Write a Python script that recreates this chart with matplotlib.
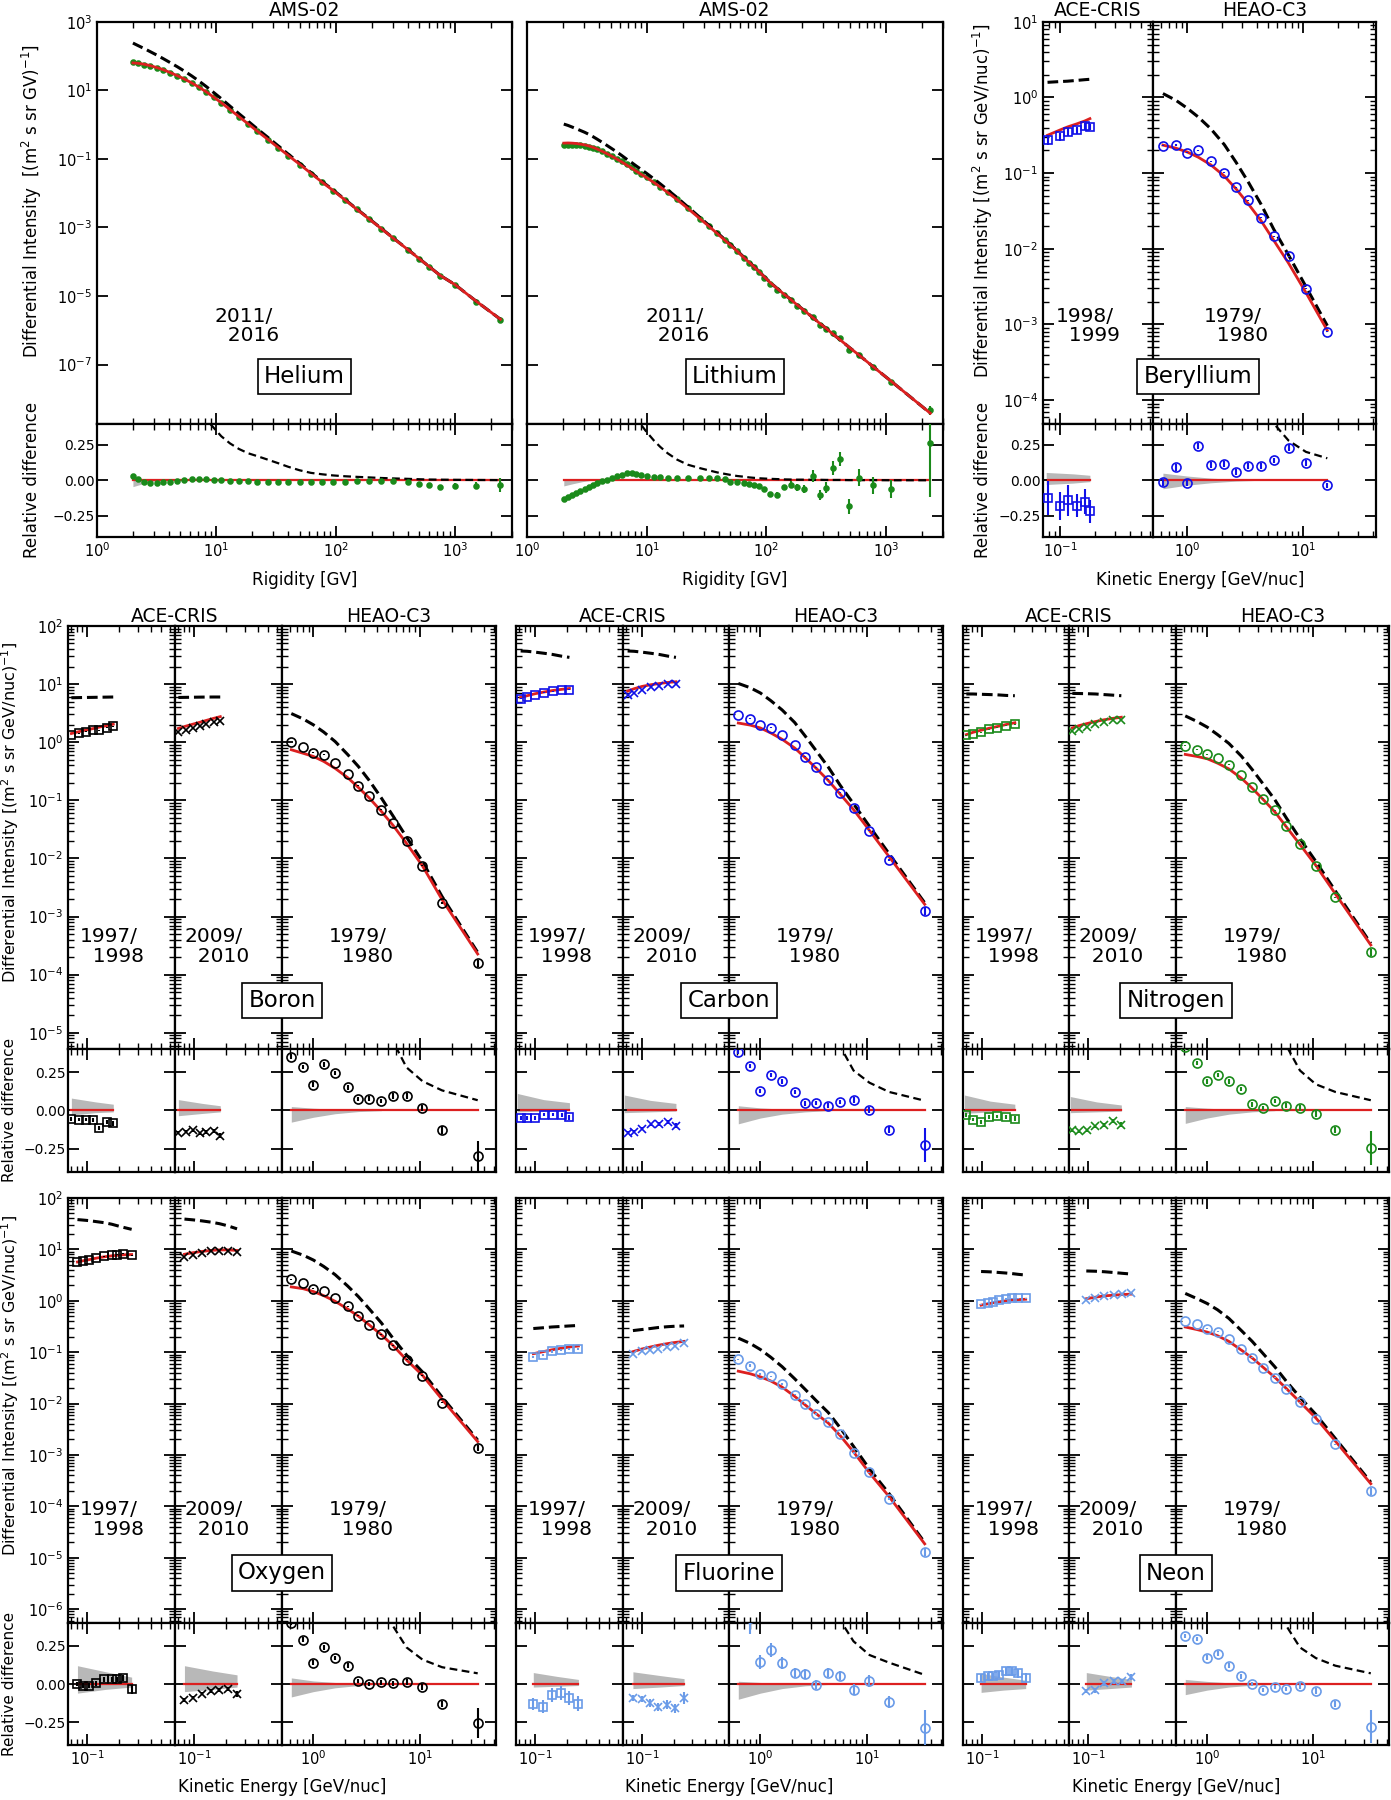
import numpy as np
import matplotlib
matplotlib.use("Agg")
import matplotlib.pyplot as plt
from matplotlib.ticker import (LogLocator, FixedLocator, FixedFormatter,
                               NullFormatter, NullLocator, LogFormatterMathtext)

# ---------------------------------------------------------------------------
# data
# fluxes are log10 of the differential intensity, *_rel is the relative
# difference (data - model) / model, *_lisx is (LIS / model) - 1
# ---------------------------------------------------------------------------

# AMS-02 helium (2011/2016)
he_R = [2.0, 2.2, 2.5, 2.8, 3.2, 3.6, 4.1, 4.7, 5.4, 6.2, 7.1, 8.2, 9.5, 11, 13,
        15.5, 18.5, 22, 27, 33, 40, 50, 62, 77, 95, 120, 150, 190, 240, 300,
        400, 500, 600, 750, 1000, 1500, 2400]
he_model = [1.80, 1.79, 1.76, 1.72, 1.66, 1.60, 1.52, 1.43, 1.33, 1.22, 1.10,
            0.96, 0.80, 0.64, 0.44, 0.23, 0.02, -0.19, -0.43, -0.67, -0.90,
            -1.16, -1.42, -1.68, -1.92, -2.20, -2.47, -2.75, -3.03, -3.30,
            -3.64, -3.91, -4.13, -4.40, -4.67, -5.15, -5.68]
he_rel = [0.03, 0.008, -0.015, -0.02, -0.02, -0.015, -0.01, -0.003, 0.003,
          0.007, 0.008, 0.007, 0.005, 0.002, -0.002, -0.005, -0.008, -0.01,
          -0.012, -0.013, -0.014, -0.015, -0.015, -0.013, -0.012, -0.01,
          -0.008, -0.006, -0.006, -0.008, -0.01, -0.025, -0.03, -0.05, -0.04,
          -0.04, -0.035]
he_err = [0.005, 0.005, 0.005, 0.005, 0.005, 0.005, 0.005, 0.005, 0.005,
          0.005, 0.005, 0.005, 0.005, 0.005, 0.005, 0.005, 0.005, 0.005,
          0.005, 0.005, 0.005, 0.005, 0.005, 0.005, 0.005, 0.005, 0.005,
          0.005, 0.006, 0.007, 0.01, 0.012, 0.014, 0.015, 0.02, 0.025, 0.05]
he_lisx = [2.8, 2.3, 1.85, 1.55, 1.3, 1.1, 0.95, 0.82, 0.7, 0.6, 0.51, 0.43,
           0.37, 0.31, 0.26, 0.22, 0.19, 0.17, 0.145, 0.12, 0.095, 0.07,
           0.052, 0.042, 0.034, 0.028, 0.024, 0.02, 0.016, 0.013, 0.01,
           0.007, 0.005, 0.004, 0.003, 0.002, 0.001]
he_band_R = [2.0, 2.3, 2.8, 3.5]
he_band_lo = [-0.045, -0.03, -0.01, 0.0]
he_band_hi = [0.005, 0.003, 0.0, 0.0]

# AMS-02 lithium (2011/2016)
li_R = [2.03, 2.2, 2.38, 2.58, 2.8, 3.03, 3.28, 3.55, 3.85, 4.2, 4.67, 5.1,
        5.67, 6.2, 6.8, 7.5, 8.2, 9.0, 10, 11.5, 13, 15, 18, 22, 28, 33, 39,
        45, 50, 57, 65, 72, 79, 87, 96, 108, 124, 141, 160, 181, 207, 245,
        280, 318, 360, 415, 490, 594, 780, 1100, 2350]
li_model = [-0.54, -0.535, -0.54, -0.55, -0.57, -0.59, -0.62, -0.66, -0.71,
            -0.77, -0.85, -0.92, -1.01, -1.09, -1.18, -1.27, -1.36, -1.45,
            -1.55, -1.69, -1.82, -1.98, -2.19, -2.44, -2.75, -2.96, -3.18,
            -3.37, -3.51, -3.69, -3.88, -4.02, -4.15, -4.29, -4.44, -4.61,
            -4.79, -4.95, -5.10, -5.26, -5.42, -5.63, -5.80, -5.95, -6.11,
            -6.28, -6.49, -6.72, -7.06, -7.48, -8.42]
li_rel = [-0.13, -0.118, -0.105, -0.09, -0.075, -0.062, -0.05, -0.035, -0.02,
          -0.008, 0.005, 0.018, 0.03, 0.04, 0.05, 0.05, 0.045, 0.04, 0.03,
          0.025, 0.02, 0.015, 0.013, 0.015, 0.018, 0.016, 0.015, 0.01, -0.013,
          -0.015, -0.02, -0.025, -0.035, -0.04, -0.065, -0.1, -0.105, -0.05,
          -0.03, -0.05, -0.06, 0.03, -0.105, -0.053, 0.085, 0.15, -0.185,
          0.018, -0.035, -0.06, 0.26]
li_err = [0.008, 0.008, 0.008, 0.008, 0.008, 0.008, 0.008, 0.008, 0.008,
          0.008, 0.008, 0.008, 0.008, 0.008, 0.008, 0.008, 0.008, 0.008,
          0.008, 0.008, 0.008, 0.008, 0.008, 0.008, 0.008, 0.008, 0.008,
          0.008, 0.008, 0.008, 0.008, 0.008, 0.008, 0.008, 0.008, 0.02, 0.02,
          0.02, 0.025, 0.025, 0.03, 0.045, 0.035, 0.04, 0.05, 0.05, 0.05,
          0.06, 0.06, 0.065, 0.38]
li_lisx = [2.6, 2.25, 1.95, 1.7, 1.5, 1.33, 1.18, 1.05, 0.94, 0.84, 0.74,
           0.67, 0.6, 0.54, 0.49, 0.45, 0.42, 0.39, 0.34, 0.28, 0.235, 0.19,
           0.145, 0.11, 0.085, 0.07, 0.055, 0.045, 0.038, 0.03, 0.025, 0.02,
           0.017, 0.014, 0.012, 0.01, 0.008, 0.006, 0.005, 0.004, 0.004,
           0.003, 0.003, 0.002, 0.002, 0.002, 0.001, 0.001, 0.001, 0.0, 0.0]
li_band_R = [2.03, 2.4, 2.9, 3.5]
li_band_lo = [-0.04, -0.025, -0.01, 0.0]
li_band_hi = [0.005, 0.003, 0.0, 0.0]

# HEAO-C3 energy bins (GeV/nuc) shared by all elements
heao_E = [0.62, 0.80, 1.00, 1.25, 1.60, 2.10, 2.65, 3.35, 4.35, 5.60, 7.50,
          10.6, 16.2, 35.0]
be_heao_E = [0.62, 0.80, 1.00, 1.25, 1.60, 2.10, 2.65, 3.35, 4.35, 5.60,
             7.50, 10.6, 16.2]
heao_band_E = [0.62, 1.00, 1.60, 2.65, 4.35]

# Beryllium
be_ace_E = [0.078, 0.100, 0.116, 0.139, 0.164, 0.181]
be_ace_model = [-0.50, -0.43, -0.39, -0.35, -0.31, -0.28]
be_ace_lis = [0.20, 0.21, 0.215, 0.225, 0.235, 0.24]
be_ace_rel = [-0.125, -0.18, -0.14, -0.18, -0.15, -0.22]
be_ace_err = [0.12, 0.10, 0.11, 0.08, 0.09, 0.08]
be_ace_band_E = [0.076, 0.13, 0.181]
be_ace_band_lo = [-0.03, -0.02, -0.01]
be_ace_band_hi = [0.055, 0.045, 0.035]
be_heao_model = [-0.63, -0.67, -0.72, -0.79, -0.89, -1.04, -1.21, -1.40,
                 -1.63, -1.89, -2.19, -2.58, -3.08]
be_heao_rel = [-0.013, 0.093, -0.019, 0.24, 0.106, 0.114, 0.056, 0.10, 0.10,
               0.14, 0.23, 0.12, -0.037]
be_heao_err = [0.025, 0.025, 0.02, 0.02, 0.02, 0.02, 0.02, 0.02, 0.02, 0.02,
               0.025, 0.02, 0.02]
be_heao_lisx = [3.8, 3.3, 2.8, 2.4, 2.0, 1.6, 1.25, 0.95, 0.65, 0.4, 0.28,
                0.2, 0.155]
be_heao_band_lo = [-0.06, -0.035, -0.018, -0.006, 0.0]
be_heao_band_hi = [0.05, 0.03, 0.015, 0.005, 0.0]

# Boron
b_ace_E = [0.071, 0.083, 0.097, 0.114, 0.130, 0.152, 0.176]
b_ace_band_E = [0.071, 0.12, 0.176]
b_ace1_model = [0.15, 0.18, 0.21, 0.235, 0.26, 0.285, 0.31]
b_ace1_lis = [0.765, 0.768, 0.770, 0.772, 0.774, 0.776, 0.778]
b_ace1_rel = [-0.055, -0.06, -0.06, -0.06, -0.115, -0.075, -0.085]
b_ace1_err = [0.012, 0.012, 0.012, 0.013, 0.015, 0.015, 0.018]
b_ace1_band_lo = [-0.03, -0.015, -0.01]
b_ace1_band_hi = [0.08, 0.055, 0.04]
b_ace2_model = [0.237, 0.275, 0.31, 0.345, 0.375, 0.41, 0.44]
b_ace2_lis = [0.770, 0.772, 0.774, 0.776, 0.777, 0.778, 0.778]
b_ace2_rel = [-0.145, -0.14, -0.13, -0.15, -0.14, -0.135, -0.165]
b_ace2_err = [0.01, 0.01, 0.01, 0.012, 0.012, 0.012, 0.015]
b_ace2_band_lo = [-0.035, -0.02, -0.01]
b_ace2_band_hi = [0.07, 0.045, 0.03]
b_heao_model = [-0.13, -0.19, -0.245, -0.33, -0.45, -0.61, -0.78, -0.96,
                -1.19, -1.43, -1.74, -2.13, -2.71, -3.645]
b_heao_rel = [0.35, 0.283, 0.168, 0.30, 0.243, 0.15, 0.073, 0.077, 0.062,
              0.095, 0.095, 0.013, -0.126, -0.30]
b_heao_err = [0.015, 0.015, 0.015, 0.015, 0.015, 0.015, 0.015, 0.015, 0.015,
              0.018, 0.02, 0.02, 0.025, 0.10]
b_heao_lisx = [3.2, 2.9, 2.5, 2.2, 1.9, 1.5, 1.3, 1.0, 0.7, 0.45, 0.28, 0.19,
               0.13, 0.066]
b_heao_band_lo = [-0.077, -0.045, -0.022, -0.008, -0.002]
b_heao_band_hi = [0.025, 0.014, 0.007, 0.003, 0.0]

# Carbon
c_ace_E = [0.073, 0.084, 0.100, 0.122, 0.146, 0.178, 0.210]
c_ace_band_E = [0.068, 0.12, 0.21]
c_ace1_model = [0.77, 0.80, 0.835, 0.865, 0.89, 0.91, 0.925]
c_ace1_lis = [1.57, 1.565, 1.55, 1.53, 1.51, 1.48, 1.46]
c_ace1_rel = [-0.05, -0.05, -0.05, -0.03, -0.03, -0.03, -0.045]
c_ace1_err = [0.01, 0.01, 0.01, 0.01, 0.01, 0.012, 0.015]
c_ace1_band_lo = [-0.01, -0.005, 0.0]
c_ace1_band_hi = [0.11, 0.07, 0.05]
c_ace2_model = [0.88, 0.92, 0.96, 0.99, 1.01, 1.03, 1.04]
c_ace2_lis = [1.57, 1.565, 1.55, 1.53, 1.51, 1.48, 1.46]
c_ace2_rel = [-0.145, -0.14, -0.12, -0.09, -0.09, -0.075, -0.10]
c_ace2_err = [0.01, 0.01, 0.01, 0.01, 0.012, 0.012, 0.015]
c_ace2_band_lo = [-0.015, -0.01, -0.005]
c_ace2_band_hi = [0.10, 0.065, 0.045]
c_heao_model = [0.33, 0.295, 0.245, 0.16, 0.05, -0.10, -0.27, -0.45, -0.66,
                -0.89, -1.16, -1.52, -1.97, -2.79]
c_heao_rel = [0.38, 0.29, 0.125, 0.23, 0.19, 0.12, 0.045, 0.048, 0.03,
              0.055, 0.068, 0.0, -0.125, -0.225]
c_heao_err = [0.015, 0.015, 0.015, 0.015, 0.015, 0.015, 0.015, 0.015, 0.015,
              0.015, 0.018, 0.02, 0.02, 0.11]
c_heao_lisx = [3.8, 3.4, 3.0, 2.6, 2.2, 1.75, 1.35, 1.0, 0.7, 0.42, 0.26,
               0.18, 0.12, 0.063]
c_heao_band_lo = [-0.088, -0.05, -0.025, -0.01, -0.002]
c_heao_band_hi = [0.03, 0.016, 0.008, 0.003, 0.0]

# Nitrogen
n_ace_E = [0.071, 0.082, 0.097, 0.117, 0.140, 0.170, 0.205]
n_ace_band_E = [0.068, 0.12, 0.205]
n_ace1_model = [0.13, 0.17, 0.205, 0.24, 0.27, 0.305, 0.335]
n_ace1_lis = [0.83, 0.83, 0.825, 0.82, 0.815, 0.805, 0.80]
n_ace1_rel = [-0.03, -0.06, -0.075, -0.045, -0.04, -0.045, -0.055]
n_ace1_err = [0.012, 0.012, 0.012, 0.012, 0.012, 0.014, 0.016]
n_ace1_band_lo = [-0.02, -0.01, 0.0]
n_ace1_band_hi = [0.10, 0.06, 0.04]
n_ace2_model = [0.245, 0.285, 0.32, 0.355, 0.385, 0.41, 0.43]
n_ace2_lis = [0.84, 0.838, 0.835, 0.83, 0.82, 0.81, 0.80]
n_ace2_rel = [-0.13, -0.135, -0.13, -0.105, -0.095, -0.07, -0.095]
n_ace2_err = [0.01, 0.01, 0.01, 0.012, 0.012, 0.014, 0.016]
n_ace2_band_lo = [-0.015, -0.01, -0.005]
n_ace2_band_hi = [0.09, 0.055, 0.035]
n_heao_model = [-0.21, -0.245, -0.285, -0.36, -0.46, -0.62, -0.79, -0.98,
                -1.20, -1.46, -1.76, -2.12, -2.61, -3.49]
n_heao_rel = [0.41, 0.31, 0.19, 0.23, 0.19, 0.14, 0.04, 0.015, 0.06, 0.03,
              0.015, -0.025, -0.13, -0.245]
n_heao_err = [0.015, 0.015, 0.015, 0.015, 0.015, 0.015, 0.015, 0.015, 0.015,
              0.015, 0.018, 0.02, 0.02, 0.11]
n_heao_lisx = [3.6, 3.0, 2.5, 2.1, 1.75, 1.4, 1.1, 0.85, 0.62, 0.42, 0.26,
               0.17, 0.12, 0.066]
n_heao_band_lo = [-0.085, -0.05, -0.025, -0.01, -0.002]
n_heao_band_hi = [0.025, 0.014, 0.007, 0.003, 0.0]

# Oxygen
o_ace1_E = [0.081, 0.092, 0.104, 0.122, 0.144, 0.170, 0.192, 0.218, 0.262]
o_ace1_model = [0.755, 0.78, 0.80, 0.83, 0.855, 0.875, 0.885, 0.895, 0.90]
o_ace1_lis = [1.58, 1.57, 1.56, 1.54, 1.52, 1.49, 1.46, 1.43, 1.39]
o_ace1_rel = [0.0, -0.01, -0.01, 0.005, 0.03, 0.03, 0.03, 0.04, -0.035]
o_ace1_err = [0.015, 0.015, 0.015, 0.015, 0.015, 0.015, 0.018, 0.02, 0.03]
o_ace1_band_E = [0.081, 0.15, 0.262]
o_ace1_band_lo = [-0.06, -0.035, -0.02]
o_ace1_band_hi = [0.12, 0.08, 0.045]
o_ace2_E = [0.081, 0.097, 0.118, 0.144, 0.173, 0.206, 0.253]
o_ace2_model = [0.905, 0.935, 0.96, 0.98, 0.99, 0.99, 0.98]
o_ace2_lis = [1.59, 1.575, 1.555, 1.53, 1.50, 1.46, 1.40]
o_ace2_rel = [-0.105, -0.09, -0.065, -0.046, -0.04, -0.034, -0.065]
o_ace2_err = [0.01, 0.01, 0.01, 0.01, 0.012, 0.015, 0.018]
o_ace2_band_E = [0.081, 0.15, 0.253]
o_ace2_band_lo = [-0.05, -0.035, -0.02]
o_ace2_band_hi = [0.12, 0.085, 0.06]
o_heao_model = [0.27, 0.235, 0.18, 0.10, -0.01, -0.16, -0.30, -0.47, -0.66,
                -0.87, -1.15, -1.45, -1.92, -2.74]
o_heao_rel = [0.40, 0.29, 0.14, 0.24, 0.17, 0.12, 0.02, 0.0, 0.01, 0.005,
              0.013, -0.02, -0.13, -0.255]
o_heao_err = [0.015, 0.015, 0.015, 0.015, 0.015, 0.015, 0.015, 0.015, 0.015,
              0.015, 0.018, 0.02, 0.02, 0.10]
o_heao_lisx = [4.0, 3.5, 3.1, 2.7, 2.3, 1.8, 1.4, 1.05, 0.7, 0.38, 0.24,
               0.16, 0.11, 0.07]
o_heao_band_lo = [-0.085, -0.05, -0.025, -0.01, -0.002]
o_heao_band_hi = [0.04, 0.02, 0.01, 0.004, 0.0]

# Fluorine
f_ace1_E = [0.096, 0.119, 0.143, 0.174, 0.208, 0.255]
f_ace1_model = [-1.03, -0.99, -0.955, -0.925, -0.90, -0.88]
f_ace1_lis = [-0.54, -0.525, -0.51, -0.50, -0.49, -0.48]
f_ace1_rel = [-0.13, -0.148, -0.07, -0.06, -0.09, -0.13]
f_ace1_err = [0.04, 0.045, 0.045, 0.045, 0.045, 0.05]
f_ace1_band_E = [0.096, 0.16, 0.255]
f_ace1_band_lo = [-0.02, -0.015, -0.01]
f_ace1_band_hi = [0.075, 0.05, 0.03]
f_ace2_E = [0.082, 0.099, 0.120, 0.143, 0.173, 0.207, 0.251]
f_ace2_model = [-0.99, -0.94, -0.90, -0.865, -0.835, -0.81, -0.79]
f_ace2_lis = [-0.58, -0.56, -0.54, -0.52, -0.505, -0.495, -0.49]
f_ace2_rel = [-0.09, -0.10, -0.125, -0.15, -0.137, -0.16, -0.09]
f_ace2_err = [0.02, 0.02, 0.025, 0.025, 0.03, 0.03, 0.04]
f_ace2_band_E = [0.082, 0.15, 0.251]
f_ace2_band_lo = [-0.03, -0.02, -0.01]
f_ace2_band_hi = [0.08, 0.055, 0.035]
f_heao_model = [-1.37, -1.42, -1.48, -1.56, -1.68, -1.86, -2.03, -2.20,
                -2.38, -2.62, -2.94, -3.35, -3.81, -4.73]
f_heao_rel = [0.70, 0.43, 0.143, 0.222, 0.139, 0.073, 0.066, -0.004, 0.073,
              0.055, -0.037, 0.022, -0.119, -0.29]
f_heao_err = [0.05, 0.10, 0.045, 0.045, 0.04, 0.03, 0.03, 0.03, 0.03, 0.03,
              0.035, 0.04, 0.04, 0.12]
f_heao_lisx = [3.4, 2.9, 2.4, 1.9, 1.5, 1.2, 1.0, 0.8, 0.6, 0.42, 0.28, 0.19,
               0.14, 0.06]
f_heao_band_lo = [-0.10, -0.06, -0.03, -0.012, -0.003]
f_heao_band_hi = [0.018, 0.01, 0.005, 0.002, 0.0]

# Neon
ne_ace1_E = [0.098, 0.113, 0.127, 0.146, 0.169, 0.191, 0.220, 0.260]
ne_ace1_model = [-0.085, -0.06, -0.04, -0.02, 0.0, 0.012, 0.022, 0.03]
ne_ace1_lis = [0.57, 0.565, 0.56, 0.55, 0.54, 0.53, 0.515, 0.50]
ne_ace1_rel = [0.039, 0.05, 0.05, 0.062, 0.082, 0.082, 0.07, 0.039]
ne_ace1_err = [0.025, 0.025, 0.025, 0.025, 0.028, 0.028, 0.03, 0.03]
ne_ace1_band_E = [0.098, 0.16, 0.26]
ne_ace1_band_lo = [-0.055, -0.04, -0.03]
ne_ace1_band_hi = [0.07, 0.045, 0.025]
ne_ace2_E = [0.096, 0.117, 0.142, 0.174, 0.208, 0.255]
ne_ace2_model = [0.04, 0.07, 0.095, 0.11, 0.12, 0.13]
ne_ace2_lis = [0.58, 0.575, 0.565, 0.55, 0.535, 0.52]
ne_ace2_rel = [-0.046, -0.041, 0.005, 0.018, 0.018, 0.044]
ne_ace2_err = [0.015, 0.015, 0.015, 0.018, 0.018, 0.02]
ne_ace2_band_E = [0.096, 0.16, 0.255]
ne_ace2_band_lo = [-0.04, -0.03, -0.02]
ne_ace2_band_hi = [0.075, 0.05, 0.03]
ne_heao_model = [-0.51, -0.56, -0.61, -0.68, -0.79, -0.96, -1.11, -1.29,
                 -1.49, -1.71, -1.97, -2.28, -2.73, -3.56]
ne_heao_rel = [0.315, 0.294, 0.173, 0.20, 0.12, 0.05, 0.0, -0.04, -0.02,
               -0.034, -0.013, -0.046, -0.13, -0.28]
ne_heao_err = [0.015, 0.015, 0.015, 0.015, 0.015, 0.015, 0.015, 0.015, 0.015,
               0.015, 0.018, 0.02, 0.02, 0.11]
ne_heao_lisx = [3.5, 3.0, 2.6, 2.2, 1.8, 1.4, 1.1, 0.85, 0.6, 0.38, 0.24,
                0.17, 0.12, 0.07]
ne_heao_band_lo = [-0.07, -0.04, -0.02, -0.008, -0.002]
ne_heao_band_hi = [0.03, 0.017, 0.008, 0.003, 0.0]

# ---------------------------------------------------------------------------
RED = "#dc2020"
GREY = "#b8b8b8"
BLUE = "#1010e8"
GREEN = "#1a8a1a"
LBLUE = "#6a9be8"
TICK_FS = 10.5

W, H = 1391, 1800
fig = plt.figure(figsize=(W / 100, H / 100), dpi=100)

ROW1 = (21.8, 423.5, 537.0)
ROW2 = (626.0, 1049.0, 1171.7)
ROW3 = (1198.0, 1623.0, 1745.0)

AMS_X = (1.0, 3000.0)
ACE_X = (0.066, 0.67)
HEAO_X = (0.507, 52.0)
BE_ACE_X = (0.0713, 0.634)
BE_HEAO_X = (0.509, 42.6)


def axpair(x0, x1, row):
    ytop, ysplit, ybot = row
    up = fig.add_axes([x0 / W, 1 - ysplit / H, (x1 - x0) / W, (ysplit - ytop) / H])
    lo = fig.add_axes([x0 / W, 1 - ybot / H, (x1 - x0) / W, (ybot - ysplit) / H])
    return up, lo


def style_common(ax, xlim):
    ax.set_xscale("log")
    ax.set_xlim(xlim)
    ax.xaxis.set_major_locator(LogLocator(10, numticks=20))
    ax.xaxis.set_minor_locator(LogLocator(10, subs=np.arange(2, 10), numticks=20))
    ax.xaxis.set_major_formatter(LogFormatterMathtext())
    ax.xaxis.set_minor_formatter(NullFormatter())
    ax.tick_params(which="both", direction="in", top=True, right=True,
                   labelsize=TICK_FS)
    ax.tick_params(which="major", length=8, width=1.3)
    ax.tick_params(which="minor", length=4, width=1.0)
    for s in ax.spines.values():
        s.set_linewidth(1.6)


def style_up(ax, xlim, ylim, labelleft, yticks=None):
    style_common(ax, xlim)
    ax.set_yscale("log")
    ax.set_ylim(ylim)
    if yticks is not None:
        ax.yaxis.set_major_locator(FixedLocator(yticks))
        ax.yaxis.set_minor_locator(NullLocator())
    else:
        ax.yaxis.set_major_locator(LogLocator(10, numticks=20))
        ax.yaxis.set_minor_locator(LogLocator(10, subs=np.arange(2, 10), numticks=20))
    ax.yaxis.set_major_formatter(LogFormatterMathtext())
    ax.yaxis.set_minor_formatter(NullFormatter())
    ax.tick_params(labelbottom=False, labelleft=labelleft)


def style_lo(ax, xlim, labelleft, labelbottom):
    style_common(ax, xlim)
    ax.set_ylim(-0.4, 0.4)
    ax.yaxis.set_major_locator(FixedLocator([-0.25, 0.0, 0.25]))
    ax.yaxis.set_major_formatter(FixedFormatter(["\u22120.25", "0.00", "0.25"]))
    ax.tick_params(labelleft=labelleft, labelbottom=labelbottom)
    ax.tick_params(axis="y", pad=1.5, labelsize=10)
    ax.tick_params(axis="x", pad=3)


def draw(up, lo, E, model_log, rel, err, color, marker, lisx=None, lis_log=None,
         band=None, ms=6.5, filled=False, ams=False):
    E = np.asarray(E, float)
    model = 10 ** np.asarray(model_log, float)
    rel = np.asarray(rel, float)
    err = np.asarray(err, float)
    data = model * (1 + rel)
    if lisx is not None:
        lis = model * (1 + np.asarray(lisx, float))
    else:
        lis = 10 ** np.asarray(lis_log, float)
    mfc = color if filled else "none"
    kw = dict(fmt=marker, ms=ms, mfc=mfc, mec=color, ecolor=color,
              mew=1.2, elinewidth=1.5, capsize=0)
    if band is not None:
        lo.fill_between(band[0], band[1], band[2], color=GREY, lw=0, zorder=1)
    if ams:
        up.errorbar(E, data, yerr=model * err, zorder=3, **kw)
        up.plot(E, lis, color="k", ls=(0, (3.5, 1.6)), lw=2.2, zorder=4)
        up.plot(E, model, color=RED, lw=2.0, zorder=5)
    else:
        up.plot(E, lis, color="k", ls=(0, (3.5, 1.6)), lw=2.2, zorder=3)
        up.plot(E, model, color=RED, lw=2.0, zorder=4)
        up.errorbar(E, data, yerr=model * err, zorder=5, **kw)
    lo.plot(E, np.zeros_like(E), color=RED, lw=1.6, zorder=2)
    lo.plot(E, lis / model - 1, color="k", ls=(0, (3.5, 2.0)), lw=1.6, zorder=3)
    lo.errorbar(E, rel, yerr=err, zorder=4, **kw)


def year(ax, xf, txt):
    ax.text(xf, 0.243, txt, transform=ax.transAxes, ha="left", va="center",
            fontsize=14.5, linespacing=1.05, zorder=6)


def box(xpx, ypx, txt):
    fig.text(xpx / W, 1 - ypx / H, txt, ha="center", va="center", fontsize=16.5,
             zorder=10, bbox=dict(boxstyle="square,pad=0.28", fc="white",
                                  ec="black", lw=1.2))


def ftext(xpx, ypx, txt, **kw):
    fig.text(xpx / W, 1 - ypx / H, txt, ha="center", va="center", **kw)


YLAB_GV = "Differential Intensity  [(m$^2$ s sr GV)$^{-1}$]"
YLAB_E = "Differential Intensity [(m$^2$ s sr GeV/nuc)$^{-1}$]"
XLAB_E = "Kinetic Energy [GeV/nuc]"

# ---------------- row 1: helium, lithium, beryllium ----------------
AMS_Y = (10 ** -8.72, 1e3)
AMS_TICKS = [1e3, 1e1, 1e-1, 1e-3, 1e-5, 1e-7]

up, lo = axpair(97, 512, ROW1)
style_up(up, AMS_X, AMS_Y, True, AMS_TICKS)
style_lo(lo, AMS_X, True, True)
draw(up, lo, he_R, he_model, he_rel, he_err, GREEN, "o", lisx=he_lisx,
     band=(he_band_R, he_band_lo, he_band_hi), ms=3.5, filled=True, ams=True)
year(up, 0.284, "2011/\n  2016")

up, lo = axpair(527, 943, ROW1)
style_up(up, AMS_X, AMS_Y, False, AMS_TICKS)
style_lo(lo, AMS_X, False, True)
draw(up, lo, li_R, li_model, li_rel, li_err, GREEN, "o", lisx=li_lisx,
     band=(li_band_R, li_band_lo, li_band_hi), ms=3.5, filled=True, ams=True)
year(up, 0.284, "2011/\n  2016")

BE_Y = (10 ** -4.31, 10.0)
up, lo = axpair(1043, 1153, ROW1)
style_up(up, BE_ACE_X, BE_Y, True)
style_lo(lo, BE_ACE_X, True, True)
draw(up, lo, be_ace_E, be_ace_model, be_ace_rel, be_ace_err, BLUE, "s",
     lis_log=be_ace_lis, band=(be_ace_band_E, be_ace_band_lo, be_ace_band_hi),
     ms=6)
year(up, 0.12, "1998/\n  1999")

up, lo = axpair(1153, 1376, ROW1)
style_up(up, BE_HEAO_X, BE_Y, False)
style_lo(lo, BE_HEAO_X, False, True)
draw(up, lo, be_heao_E, be_heao_model, be_heao_rel, be_heao_err, BLUE, "o",
     lisx=be_heao_lisx, band=(heao_band_E, be_heao_band_lo, be_heao_band_hi))
year(up, 0.23, "1979/\n  1980")

ftext(304.5, 10, "AMS-02", fontsize=13.5)
ftext(735, 10, "AMS-02", fontsize=13.5)
ftext(1098, 10, "ACE-CRIS", fontsize=13.5)
ftext(1264.5, 10, "HEAO-C3", fontsize=13.5)
ftext(304.5, 580, "Rigidity [GV]", fontsize=12)
ftext(735, 580, "Rigidity [GV]", fontsize=12)
ftext(1200, 580, XLAB_E, fontsize=12)
ftext(32, 201, YLAB_GV, fontsize=12, rotation=90)
ftext(32, 480, "Relative difference", fontsize=12, rotation=90)
ftext(983, 201, YLAB_E, fontsize=12, rotation=90)
ftext(983, 480, "Relative difference", fontsize=12, rotation=90)
box(304.5, 376.5, "Helium")
box(735, 376.5, "Lithium")
box(1198, 376.5, "Beryllium")


# ---------------- rows 2 and 3: three-panel elements ----------------
def element(xe, row, ylim, color, ace1, ace2, heao, first, bottom):
    xl = [ACE_X, ACE_X, HEAO_X]
    pairs = []
    for i in range(3):
        up, lo = axpair(xe[i], xe[i + 1], row)
        style_up(up, xl[i], ylim, first and i == 0)
        style_lo(lo, xl[i], first and i == 0, bottom)
        pairs.append((up, lo))
    draw(*pairs[0], *ace1[:4], color, "s", lis_log=ace1[4], band=ace1[5], ms=6)
    draw(*pairs[1], *ace2[:4], color, "x", lis_log=ace2[4], band=ace2[5], ms=6)
    draw(*pairs[2], *heao[:4], color, "o", lisx=heao[4], band=heao[5])
    year(pairs[0][0], 0.11, "1997/\n  1998")
    year(pairs[1][0], 0.09, "2009/\n  2010")
    year(pairs[2][0], 0.22, "1979/\n  1980")


GL = (68, 175, 282, 496)
GM = (516, 623, 729, 943)
GR = (963, 1069, 1176, 1389)
R2_Y = (10 ** -5.28, 100.0)
R3_Y = (10 ** -6.27, 100.0)

element(GL, ROW2, R2_Y, "k",
        (b_ace_E, b_ace1_model, b_ace1_rel, b_ace1_err, b_ace1_lis,
         (b_ace_band_E, b_ace1_band_lo, b_ace1_band_hi)),
        (b_ace_E, b_ace2_model, b_ace2_rel, b_ace2_err, b_ace2_lis,
         (b_ace_band_E, b_ace2_band_lo, b_ace2_band_hi)),
        (heao_E, b_heao_model, b_heao_rel, b_heao_err, b_heao_lisx,
         (heao_band_E, b_heao_band_lo, b_heao_band_hi)), True, False)
element(GM, ROW2, R2_Y, BLUE,
        (c_ace_E, c_ace1_model, c_ace1_rel, c_ace1_err, c_ace1_lis,
         (c_ace_band_E, c_ace1_band_lo, c_ace1_band_hi)),
        (c_ace_E, c_ace2_model, c_ace2_rel, c_ace2_err, c_ace2_lis,
         (c_ace_band_E, c_ace2_band_lo, c_ace2_band_hi)),
        (heao_E, c_heao_model, c_heao_rel, c_heao_err, c_heao_lisx,
         (heao_band_E, c_heao_band_lo, c_heao_band_hi)), False, False)
element(GR, ROW2, R2_Y, GREEN,
        (n_ace_E, n_ace1_model, n_ace1_rel, n_ace1_err, n_ace1_lis,
         (n_ace_band_E, n_ace1_band_lo, n_ace1_band_hi)),
        (n_ace_E, n_ace2_model, n_ace2_rel, n_ace2_err, n_ace2_lis,
         (n_ace_band_E, n_ace2_band_lo, n_ace2_band_hi)),
        (heao_E, n_heao_model, n_heao_rel, n_heao_err, n_heao_lisx,
         (heao_band_E, n_heao_band_lo, n_heao_band_hi)), False, False)

element(GL, ROW3, R3_Y, "k",
        (o_ace1_E, o_ace1_model, o_ace1_rel, o_ace1_err, o_ace1_lis,
         (o_ace1_band_E, o_ace1_band_lo, o_ace1_band_hi)),
        (o_ace2_E, o_ace2_model, o_ace2_rel, o_ace2_err, o_ace2_lis,
         (o_ace2_band_E, o_ace2_band_lo, o_ace2_band_hi)),
        (heao_E, o_heao_model, o_heao_rel, o_heao_err, o_heao_lisx,
         (heao_band_E, o_heao_band_lo, o_heao_band_hi)), True, True)
element(GM, ROW3, R3_Y, LBLUE,
        (f_ace1_E, f_ace1_model, f_ace1_rel, f_ace1_err, f_ace1_lis,
         (f_ace1_band_E, f_ace1_band_lo, f_ace1_band_hi)),
        (f_ace2_E, f_ace2_model, f_ace2_rel, f_ace2_err, f_ace2_lis,
         (f_ace2_band_E, f_ace2_band_lo, f_ace2_band_hi)),
        (heao_E, f_heao_model, f_heao_rel, f_heao_err, f_heao_lisx,
         (heao_band_E, f_heao_band_lo, f_heao_band_hi)), False, True)
element(GR, ROW3, R3_Y, LBLUE,
        (ne_ace1_E, ne_ace1_model, ne_ace1_rel, ne_ace1_err, ne_ace1_lis,
         (ne_ace1_band_E, ne_ace1_band_lo, ne_ace1_band_hi)),
        (ne_ace2_E, ne_ace2_model, ne_ace2_rel, ne_ace2_err, ne_ace2_lis,
         (ne_ace2_band_E, ne_ace2_band_lo, ne_ace2_band_hi)),
        (heao_E, ne_heao_model, ne_heao_rel, ne_heao_err, ne_heao_lisx,
         (heao_band_E, ne_heao_band_lo, ne_heao_band_hi)), False, True)

for g in (GL, GM, GR):
    ftext(g[1], 616, "ACE-CRIS", fontsize=13.5)
    ftext((g[2] + g[3]) / 2, 616, "HEAO-C3", fontsize=13.5)
    ftext(g[2], 1787, XLAB_E, fontsize=12)

ftext(10, 812, YLAB_E, fontsize=11.5, rotation=90)
ftext(10, 1110, "Relative difference", fontsize=11, rotation=90)
ftext(10, 1385, YLAB_E, fontsize=11.5, rotation=90)
ftext(10, 1684, "Relative difference", fontsize=11, rotation=90)

for name, xpx in (("Boron", 282), ("Carbon", 729), ("Nitrogen", 1176)):
    box(xpx, 1000.5, name)
for name, xpx in (("Oxygen", 282), ("Fluorine", 729), ("Neon", 1176)):
    box(xpx, 1573, name)

fig.savefig("out.png", dpi=100)
